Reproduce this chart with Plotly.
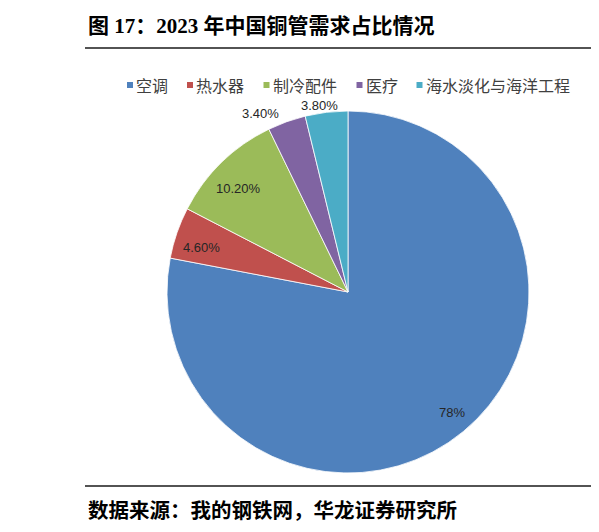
"""
2023 年中国铜管需求占比情况 - pie chart
"""

import math

import plotly.graph_objects as go

# the page body has an 8px margin, so the figure is made 8px smaller
# and every screen position is shifted by it
PAGE_W, PAGE_H = 599, 532
OFF = 8
W, H = PAGE_W - OFF, PAGE_H - OFF

# data
labels = ["空调", "热水器", "制冷配件", "医疗", "海水淡化与海洋工程"]
shares = [78.0, 4.6, 10.2, 3.4, 3.8]
label_text = ["78%", "4.60%", "10.20%", "3.40%", "3.80%"]

title_text = "图 17：2023 年中国铜管需求占比情况"
source_text = "数据来源：我的钢铁网，华龙证券研究所"

# style
colors = ["#4F81BD", "#C0504D", "#9BBB59", "#8064A2", "#4BACC6"]
# label placement: fraction of pie radius, angle nudge in degrees
label_radius = [0.88, 0.845, 0.83, 1.10, 1.04]
label_nudge = [-1.0, -2.0, -2.3, -6.2, -2.0]

CJK = "Noto Sans CJK SC"
SERIF = "Liberation Serif, Noto Sans CJK SC"


def px_x(x):
    return (x - OFF) / W


def px_y(y):
    return 1 - (y - OFF) / H


# pie circle on screen: center (348, 292), radius ~181 px
cx, cy, r = 348, 292, 181

fig = go.Figure(
    go.Pie(
        labels=labels,
        values=shares,
        textinfo="none",
        sort=False,
        direction="clockwise",
        rotation=0,
        showlegend=False,
        marker={"colors": colors, "line": {"color": "#ffffff", "width": 0.8}},
        domain={"x": [px_x(cx - r), px_x(cx + r)], "y": [px_y(cy + r), px_y(cy - r)]},
        hoverinfo="label+percent",
    )
)

fig.update_layout(
    width=W,
    height=H,
    autosize=False,
    margin={"l": 0, "r": 0, "t": 0, "b": 0},
    paper_bgcolor="#ffffff",
    plot_bgcolor="#ffffff",
    showlegend=False,
)

# slice labels, placed around each slice's mid angle
total = sum(shares)
acc = 0.0
for i, v in enumerate(shares):
    mid = (acc + v / 2) / total * 2 * math.pi + math.radians(label_nudge[i])
    acc += v
    rr = r * label_radius[i]
    fig.add_annotation(
        text=label_text[i],
        x=px_x(cx + rr * math.sin(mid)),
        y=px_y(cy - rr * math.cos(mid)),
        xref="paper",
        yref="paper",
        xanchor="center",
        yanchor="middle",
        showarrow=False,
        font={"family": "Liberation Sans", "size": 13, "color": "#262626"},
    )

# legend row: small square + label
lx = 127
for name, col in zip(labels, colors):
    fig.add_shape(
        type="rect", xref="paper", yref="paper",
        x0=px_x(lx), x1=px_x(lx + 6), y0=px_y(88), y1=px_y(82),
        fillcolor=col, line={"width": 0},
    )
    fig.add_annotation(
        text=name,
        x=px_x(lx + 7),
        y=px_y(85),
        xref="paper",
        yref="paper",
        xanchor="left",
        yanchor="middle",
        showarrow=False,
        font={"family": CJK, "size": 16, "color": "#404040"},
    )
    lx += 8 + len(name) * 16.5 + 19

# title and source
fig.add_annotation(
    text="<b>" + title_text + "</b>",
    x=px_x(86),
    y=px_y(26),
    xref="paper",
    yref="paper",
    xanchor="left",
    yanchor="middle",
    showarrow=False,
    font={"family": SERIF, "size": 21, "color": "#000000"},
)
fig.add_annotation(
    text="<b>" + source_text + "</b>",
    x=px_x(86),
    y=px_y(510),
    xref="paper",
    yref="paper",
    xanchor="left",
    yanchor="middle",
    showarrow=False,
    font={"family": SERIF, "size": 20.5, "color": "#000000"},
)

# frame lines
line_style = {"color": "#1a1a1a", "width": 1.5}
fig.add_shape(type="line", xref="paper", yref="paper",
              x0=px_x(85), x1=1, y0=px_y(48), y1=px_y(48), line=line_style)
fig.add_shape(type="line", xref="paper", yref="paper",
              x0=px_x(85), x1=px_x(595), y0=px_y(486), y1=px_y(486), line=line_style)
fig.add_shape(type="line", xref="paper", yref="paper",
              x0=px_x(595), x1=px_x(595), y0=px_y(48), y1=px_y(486),
              line={"color": "#555555", "width": 1})

fig.write_html("out.html")
